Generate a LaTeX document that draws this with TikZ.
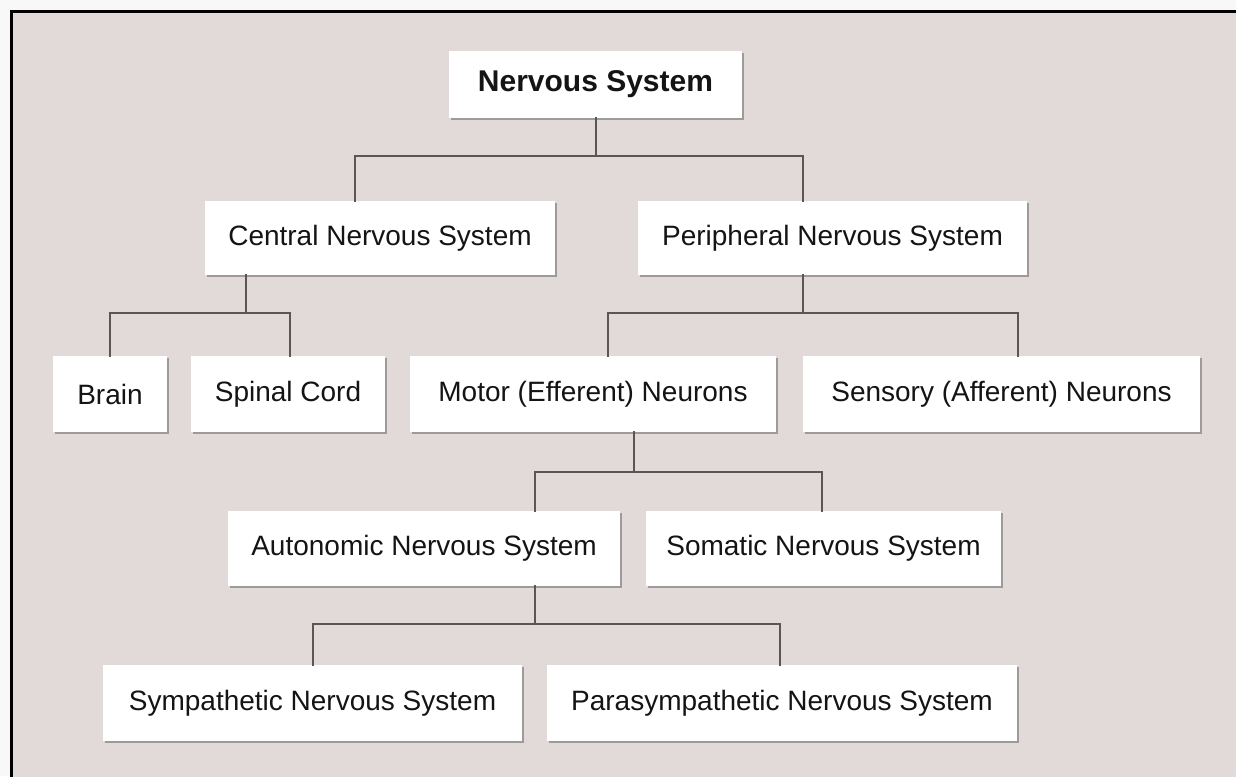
\documentclass[tikz,border=0pt]{standalone}
\usepackage{fontspec}
\setmainfont{Liberation Sans}
\usetikzlibrary{shadows,calc}
\definecolor{outerbg}{HTML}{F8F8F8}
\definecolor{panelbg}{HTML}{E2DAD8}
\definecolor{linecol}{HTML}{5A5656}
\definecolor{txtcol}{HTML}{141414}
\definecolor{shadecol}{HTML}{9E9A9A}
\tikzset{
  box/.style={rectangle, fill=white, inner sep=0pt, text=txtcol,
    font=\fontsize{28}{32}\selectfont,
    drop shadow={shadow xshift=2pt, shadow yshift=-2pt, fill=shadecol, opacity=1}},
  conn/.style={draw=linecol, line width=2pt, line cap=rect}
}
\begin{document}
\begin{tikzpicture}[x=1pt, y=-1pt]
\useasboundingbox (0,0) rectangle (1236,776);
\clip (0,0) rectangle (1236,776);
\fill[outerbg] (0,0) rectangle (1236,776);
\filldraw[fill=panelbg, draw=black, line width=3pt] (11.5,11.5) rectangle (1250,790);

% nodes
\node[box, minimum width=293pt, minimum height=67pt, font=\fontsize{30}{34}\selectfont\bfseries] (ns) at (595.5,84.5) {Nervous System};
\node[box, minimum width=350pt, minimum height=74pt] (cns) at (380,238) {Central Nervous System};
\node[box, minimum width=389pt, minimum height=74pt] (pns) at (832.5,238) {Peripheral Nervous System};
\node[box, minimum width=114pt, minimum height=76pt] (brain) at (110,394) {Brain};
\node[box, minimum width=194pt, minimum height=76pt] (spinal) at (288,394) {Spinal Cord};
\node[box, minimum width=366pt, minimum height=76pt] (motor) at (593,394) {Motor (Efferent) Neurons};
\node[box, minimum width=397pt, minimum height=76pt] (sensory) at (1001.5,394) {Sensory (Afferent) Neurons};
\node[box, minimum width=392pt, minimum height=75pt] (auto) at (424,548.5) {Autonomic Nervous System};
\node[box, minimum width=355pt, minimum height=75pt] (soma) at (823.5,548.5) {Somatic Nervous System};
\node[box, minimum width=419pt, minimum height=76pt] (symp) at (312.5,703) {Sympathetic Nervous System};
\node[box, minimum width=470pt, minimum height=76pt] (para) at (782,703) {Parasympathetic Nervous System};

% connectors
\draw[conn] (ns.south) |- ($(cns.north)+(-25,-45)$) -- ([xshift=-25pt]cns.north);
\draw[conn] (ns.south |- 0,156) -| ([xshift=-29.5pt]pns.north);

\draw[conn] ([xshift=-134pt]cns.south) |- (brain.north |- 0,313) -- (brain.north);
\draw[conn] ([xshift=-134pt]cns.south |- 0,313) -| ([xshift=2pt]spinal.north);

\draw[conn] ([xshift=-29.5pt]pns.south) |- ([xshift=15pt]motor.north |- 0,313) -- ([xshift=15pt]motor.north);
\draw[conn] ([xshift=-29.5pt]pns.south |- 0,313) -| ([xshift=16.5pt]sensory.north);

\draw[conn] ([xshift=41pt]motor.south) |- ([xshift=111pt]auto.north |- 0,472) -- ([xshift=111pt]auto.north);
\draw[conn] ([xshift=41pt]motor.south |- 0,472) -| ([xshift=-1.5pt]soma.north);

\draw[conn] ([xshift=111pt]auto.south) |- (symp.north |- 0,624) -- (symp.north);
\draw[conn] ([xshift=111pt]auto.south |- 0,624) -| ([xshift=-2pt]para.north);
\end{tikzpicture}
\end{document}
